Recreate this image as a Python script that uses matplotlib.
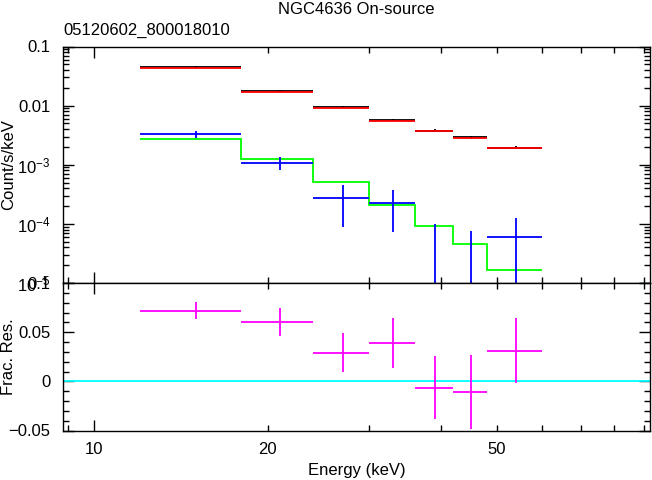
import matplotlib
matplotlib.use("Agg")
import matplotlib.pyplot as plt
import numpy as np
from matplotlib.ticker import FixedLocator, FuncFormatter, NullFormatter

plt.rcParams["font.family"] = ["Liberation Sans", "DejaVu Sans"]
plt.rcParams["font.size"] = 12

# energy bins (keV)
edges = [12, 18, 24, 30, 36, 42, 48, 60]

# source spectrum: data (black) and model (red)
src_data = [0.0455, 0.01766, 0.00936, 0.0057, 0.00376, 0.00291, 0.00194]
src_err = [0.0015, 0.0006, 0.0004, 0.00025, 0.0002, 0.00018, 0.00012]
src_model = [0.0430, 0.0171, 0.0092, 0.0056, 0.0037, 0.00288, 0.00192]

# background: data (blue) and model (green)
bkg_data = [3.27e-3, 1.08e-3, 2.70e-4, 2.22e-4, 2e-6, 2e-6, 5.9e-5]
bkg_err = [4.3e-4, 2.5e-4, 1.8e-4, 1.5e-4, 9.6e-5, 7.4e-5, 6.5e-5]
bkg_model = [2.69e-3, 1.26e-3, 5.09e-4, 2.08e-4, 9.29e-5, 4.5e-5, 1.65e-5]

# fractional residuals (magenta)
resid = [0.0719, 0.0607, 0.0291, 0.039, -0.0063, -0.0107, 0.0311]
resid_err = [0.0088, 0.0142, 0.0196, 0.0254, 0.0317, 0.0375, 0.0331]

title = "NGC4636 On-source"
subtitle = "05120602_800018010"

lo = np.array(edges[:-1], dtype=float)
hi = np.array(edges[1:], dtype=float)
mid = (lo + hi) / 2
half = (hi - lo) / 2

fig = plt.figure(figsize=(6.52, 4.80), dpi=100)
L, R = 63 / 652, 650 / 652
ax1 = fig.add_axes([L, 1 - 283 / 480, R - L, (283 - 46.5) / 480])
ax2 = fig.add_axes([L, 1 - 430.5 / 480, R - L, (430.5 - 283) / 480])

lw = 1.3

# top panel
ax1.stairs(bkg_model, edges, baseline=None, color="#00ff00", lw=lw)
ax1.errorbar(mid, bkg_data, xerr=half, yerr=bkg_err, fmt="none", ecolor="#0000ff", elinewidth=lw)
ax1.errorbar(mid, src_data, xerr=half, yerr=src_err, fmt="none", ecolor="black", elinewidth=lw)
ax1.hlines(src_model, lo, hi, colors="#ff0000", lw=lw)

# bottom panel
ax2.axhline(0, color="#00ffff", lw=lw)
ax2.errorbar(mid, resid, xerr=half, yerr=resid_err, fmt="none", ecolor="#ff00ff", elinewidth=lw)

for ax in (ax1, ax2):
    ax.set_xscale("log")
    ax.set_xlim(8.83, 92.2)
    ax.xaxis.set_major_locator(FixedLocator([10]))
    ax.xaxis.set_minor_locator(FixedLocator([9, 20, 30, 40, 50, 60, 70, 80, 90]))
    ax.tick_params(which="both", direction="in", top=True, right=True, width=1, color="black")
    ax.tick_params(which="major", length=8)
    ax.tick_params(which="minor", length=4)
    ax.tick_params(axis="y", which="both", pad=9)
    ax.tick_params(axis="x", which="both", pad=8)
    for s in ax.spines.values():
        s.set_linewidth(1.0)

ax1.set_yscale("log")
ax1.set_ylim(1e-5, 0.1)
ylabs = {1e-5: r"$\mathregular{10^{-5}}$", 1e-4: r"$\mathregular{10^{-4}}$",
         1e-3: r"$\mathregular{10^{-3}}$", 1e-2: "0.01", 1e-1: "0.1"}
ax1.yaxis.set_major_locator(FixedLocator(list(ylabs.keys())))
ax1.yaxis.set_major_formatter(FuncFormatter(lambda v, p: min(ylabs.items(), key=lambda kv: abs(np.log10(kv[0]) - np.log10(v)))[1]))
ax1.yaxis.set_minor_locator(FixedLocator([m * 10.0 ** e for e in range(-5, -1) for m in range(2, 10)]))
ax1.yaxis.set_minor_formatter(NullFormatter())
ax1.xaxis.set_major_formatter(NullFormatter())
ax1.xaxis.set_minor_formatter(NullFormatter())

ax2.set_ylim(-0.05, 0.1)
ax2.yaxis.set_major_locator(FixedLocator([-0.05, 0, 0.05, 0.1]))
ax2.yaxis.set_major_formatter(FuncFormatter(lambda v, p: {-0.05: "\u22120.05", 0: "0", 0.05: "0.05", 0.1: "0.1"}[round(v, 2)]))
ax2.yaxis.set_minor_locator(FixedLocator(np.arange(-0.05, 0.1001, 0.01)))
ax2.xaxis.set_major_formatter(FuncFormatter(lambda v, p: "10"))
ax2.xaxis.set_minor_formatter(FuncFormatter(lambda v, p: str(int(round(v))) if round(v) in (20, 50) else ""))

for ax, lab in ((ax1, "Count/s/keV"), (ax2, "Frac. Res.")):
    ax.set_ylabel(lab)
    ax.yaxis.label.set_verticalalignment("center")
    ax.yaxis.set_label_coords((9 - 63) / 587, 0.5)

cx = (63 + 650) / 2 / 652
fig.text(cx, 1 - 10 / 480, title, ha="center", va="center")
fig.text(63 / 652, 1 - 30 / 480, subtitle, ha="left", va="center")
fig.text(cx, 1 - 470 / 480, "Energy (keV)", ha="center", va="center")

fig.savefig("out.png", dpi=100)
